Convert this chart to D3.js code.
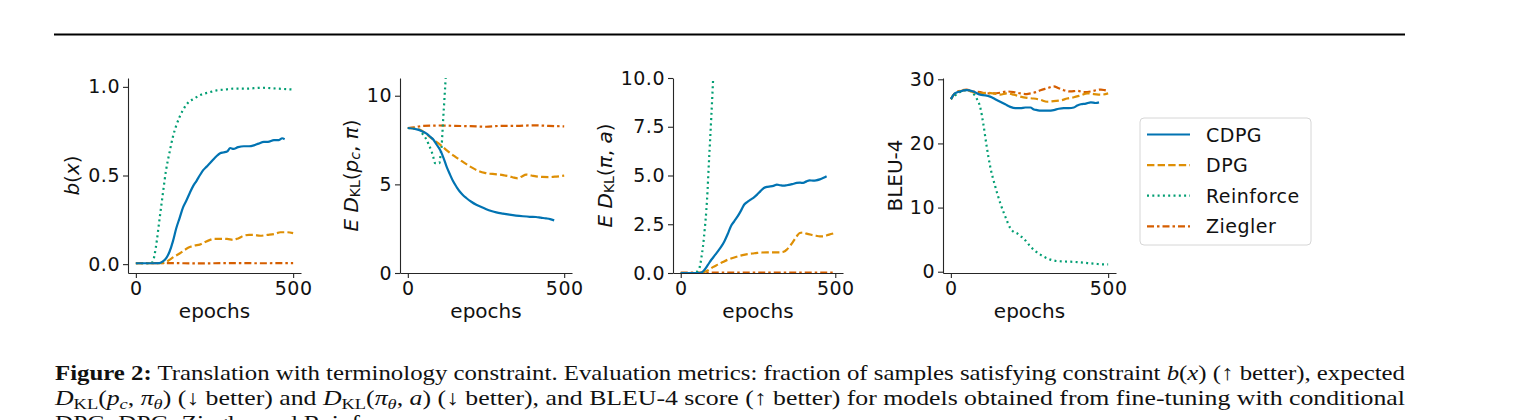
<!DOCTYPE html>
<html lang="en">
<head>
	<meta charset="UTF-8"/>
	<title>Figure 2 - terminology constraint</title>
	<script src="https://d3js.org/d3.v7.min.js"></script>
	<style>
		body { margin: 0; background: #fff; }
		svg text { fill: #111; }
	</style>
</head>
<body>
<script>

var w = 1540;
var h = 420;

var methods = ["CDPG", "DPG", "Reinforce", "Ziegler"];
var colors = ["#0173b2", "#de8f05", "#029e73", "#d55e00"];
var dashes = ["none", "7.4,3.2", "2,3.3", "7,3,2.5,3"];

var xTicks = [0, 500];
var bxTicks = [0, 0.5, 1.0];
var klpTicks = [0, 5, 10];
var klaTicks = [0, 2.5, 5, 7.5, 10];
var bleuTicks = [0, 10, 20, 30];

// [epoch, value]
var bx_cdpg = [[0,0.005],[40,0.005],[75,0.006],[86,0.015],[97,0.035],[107,0.07],[118,0.13],[128,0.2],[139,0.26],[150,0.32],[161,0.36],[171,0.40],[182,0.44],[193,0.47],[203,0.50],[214,0.53],[225,0.55],[236,0.57],[246,0.59],[257,0.61],[268,0.625],[278,0.63],[290,0.635],[300,0.655],[310,0.65],[325,0.66],[343,0.665],[360,0.665],[375,0.67],[390,0.68],[407,0.69],[420,0.69],[439,0.70],[455,0.70],[465,0.71],[473,0.705]];
var bx_dpg = [[0,0.005],[80,0.005],[95,0.01],[107,0.024],[120,0.04],[139,0.06],[155,0.08],[171,0.096],[187,0.105],[203,0.11],[220,0.125],[236,0.137],[250,0.143],[268,0.143],[290,0.142],[310,0.137],[325,0.145],[343,0.16],[360,0.165],[375,0.165],[395,0.16],[418,0.165],[440,0.17],[460,0.18],[480,0.18],[500,0.175]];
var bx_reinforce = [[0,0.005],[48,0.005],[55,0.02],[64,0.1],[75,0.25],[86,0.4],[96,0.53],[107,0.63],[118,0.72],[128,0.78],[139,0.83],[150,0.87],[161,0.9],[171,0.92],[182,0.93],[200,0.95],[214,0.96],[235,0.97],[257,0.98],[285,0.985],[310,0.99],[350,0.99],[400,0.995],[450,0.99],[500,0.985]];
var bx_ziegler = [[0,0.005],[100,0.006],[200,0.004],[300,0.006],[400,0.005],[500,0.006]];

var klp_cdpg = [[0,8.18],[29,8.1],[45,8.0],[60,7.86],[71,7.7],[82,7.52],[92,7.25],[103,6.95],[114,6.5],[124,6.0],[135,5.55],[145,5.17],[156,4.85],[166,4.6],[176,4.4],[187,4.23],[203,4.02],[219,3.85],[235,3.72],[251,3.6],[267,3.5],[283,3.42],[304,3.35],[325,3.29],[346,3.24],[368,3.2],[390,3.17],[410,3.16],[425,3.12],[442,3.08],[455,3.04],[468,2.97]];
var klp_dpg = [[0,8.18],[20,8.15],[39,8.08],[55,7.9],[71,7.67],[87,7.45],[103,7.24],[119,7.0],[135,6.77],[150,6.58],[166,6.39],[182,6.2],[198,6.02],[214,5.86],[230,5.73],[246,5.65],[262,5.6],[278,5.58],[293,5.55],[310,5.5],[325,5.45],[340,5.38],[352,5.34],[365,5.45],[378,5.55],[395,5.5],[410,5.45],[430,5.42],[452,5.41],[475,5.44],[500,5.49]];
var klp_reinforce = [[0,8.18],[20,8.15],[34,8.1],[47,7.85],[60,7.52],[68,7.2],[76,6.86],[82,6.5],[87,6.2],[95,6.2],[101,6.2],[105,6.7],[108,7.14],[111,8.0],[113,8.65],[117,9.8],[121,11.0],[125,12.5],[130,14]];
var klp_ziegler = [[0,8.18],[20,8.22],[50,8.3],[100,8.32],[150,8.3],[200,8.28],[250,8.25],[300,8.3],[350,8.3],[400,8.33],[450,8.3],[500,8.27]];

var kla_cdpg = [[0,0],[60,0],[67,0.02],[77,0.17],[88,0.42],[99,0.68],[110,0.9],[120,1.11],[131,1.35],[141,1.62],[152,2.0],[162,2.39],[173,2.65],[184,2.9],[195,3.2],[205,3.5],[216,3.65],[226,3.76],[237,3.88],[247,4.02],[258,4.2],[269,4.36],[280,4.42],[290,4.44],[300,4.47],[311,4.53],[322,4.5],[332,4.48],[343,4.5],[354,4.53],[365,4.58],[375,4.62],[386,4.63],[396,4.62],[407,4.7],[417,4.75],[428,4.74],[438,4.75],[450,4.8],[462,4.88],[472,4.96]];
var kla_dpg = [[0,0],[65,0],[75,0.04],[88,0.14],[104,0.3],[120,0.43],[136,0.56],[152,0.68],[168,0.77],[184,0.85],[200,0.92],[216,0.97],[232,1.0],[247,1.03],[263,1.05],[279,1.06],[300,1.06],[322,1.06],[335,1.1],[343,1.2],[354,1.4],[364,1.62],[375,1.88],[385,2.05],[396,2.08],[407,2.02],[422,1.96],[438,1.91],[450,1.88],[460,1.88],[480,1.97],[500,2.05]];
var kla_reinforce = [[0,0],[45,0],[51,0.05],[57,0.15],[62,0.34],[67,0.8],[72,1.37],[78,2.3],[83,3.25],[87,4.3],[90,5.3],[95,6.8],[99,8.03],[105,10.0],[110,11.6],[115,13]];
var kla_ziegler = [[0,0.02],[100,0.02],[200,0.02],[300,0.02],[400,0.02],[500,0.02]];

var bleu_cdpg = [[0,26.9],[13,27.8],[29,28.1],[50,28.3],[71,28.1],[93,27.6],[110,27.5],[125,27.3],[141,26.9],[157,26.5],[173,26.1],[189,25.7],[205,25.5],[221,25.5],[237,25.6],[253,25.6],[264,25.3],[274,25.2],[285,25.1],[295,25.1],[311,25.1],[327,25.2],[343,25.4],[359,25.5],[375,25.5],[391,25.6],[402,25.9],[413,26.1],[429,26.2],[445,26.4],[460,26.3],[471,26.4]];
var bleu_dpg = [[0,26.9],[18,28.0],[50,28.3],[70,28.0],[93,27.8],[114,27.9],[135,27.8],[157,27.6],[178,27.8],[200,27.6],[221,27.3],[242,27.1],[263,27.0],[285,26.8],[306,26.5],[327,26.6],[349,26.7],[370,27.0],[391,27.2],[413,27.5],[434,27.8],[455,27.7],[478,27.6],[500,27.8]];
var bleu_reinforce = [[0,26.9],[29,28.0],[50,28.3],[71,27.8],[82,27.0],[93,25.7],[103,23.1],[114,19.5],[125,16.4],[141,13.3],[157,10.7],[173,8.6],[189,6.8],[200,6.2],[210,6.0],[220,5.6],[231,5.2],[242,4.6],[253,3.9],[264,3.4],[274,3.0],[290,2.5],[306,2.1],[322,1.8],[338,1.66],[360,1.6],[381,1.56],[402,1.5],[423,1.4],[445,1.3],[466,1.2],[485,1.15],[500,1.14]];
var bleu_ziegler = [[0,26.9],[18,28.0],[50,28.4],[70,28.1],[93,28.0],[114,27.8],[135,27.8],[157,27.9],[178,28.1],[200,28.0],[221,27.8],[242,27.7],[253,27.8],[270,28.0],[285,28.3],[306,28.6],[327,28.9],[343,28.6],[359,28.3],[380,28.1],[402,28.2],[423,28.0],[445,28.1],[462,28.3],[477,28.4],[490,28.3],[500,28.2]];

// layout of the four panels
var panels = [
	{ x0: 128, x1: 301, yDom: [-0.05, 1.05], ticks: bxTicks, fmt: ".1f", labelX: 72,
	  series: [bx_cdpg, bx_dpg, bx_reinforce, bx_ziegler], label: "bx" },
	{ x0: 400, x1: 572, yDom: [0, 11], ticks: klpTicks, fmt: "d", labelX: 351,
	  series: [klp_cdpg, klp_dpg, klp_reinforce, klp_ziegler], label: "klp" },
	{ x0: 673, x1: 843, yDom: [0, 10], ticks: klaTicks, fmt: ".1f", labelX: 605,
	  series: [kla_cdpg, kla_dpg, kla_reinforce, kla_ziegler], label: "kla" },
	{ x0: 943, x1: 1116, yDom: [-0.2, 30.2], ticks: bleuTicks, fmt: "d", labelX: 895,
	  series: [bleu_cdpg, bleu_dpg, bleu_reinforce, bleu_ziegler], label: "bleu" }
];
var axTop = 78, axBottom = 273;

var svg = d3.select("body")
	.append("svg")
	.attr("width", w)
	.attr("height", h)
	.style("display", "block");

// rule above the figure
svg.append("line")
	.attr("x1", 54).attr("x2", 1405)
	.attr("y1", 34.5).attr("y2", 34.5)
	.attr("stroke", "#000")
	.attr("stroke-width", 2);

panels.forEach(function(p, pi) {
	var xScale = d3.scaleLinear().domain([-25, 525]).range([p.x0, p.x1]);
	var yScale = d3.scaleLinear().domain(p.yDom).range([axBottom, axTop]);

	svg.append("clipPath")
		.attr("id", "clip" + pi)
		.append("rect")
		.attr("x", p.x0).attr("y", axTop)
		.attr("width", p.x1 - p.x0).attr("height", axBottom - axTop);

	var line = d3.line()
		.x(function(d) { return xScale(d[0]); })
		.y(function(d) { return yScale(d[1]); })
		.curve(d3.curveMonotoneX);

	var g = svg.append("g").attr("clip-path", "url(#clip" + pi + ")");
	// Ziegler / Reinforce underneath, CDPG on top
	[3, 2, 1, 0].forEach(function(k) {
		g.append("path")
			.datum(p.series[k])
			.attr("d", line)
			.attr("fill", "none")
			.attr("stroke", colors[k])
			.attr("stroke-width", 2.2)
			.attr("stroke-dasharray", dashes[k]);
	});

	var xAxis = d3.axisBottom(xScale).tickValues(xTicks).tickSize(5).tickPadding(4).tickSizeOuter(0);
	var yAxis = d3.axisLeft(yScale).tickValues(p.ticks).tickFormat(d3.format(p.fmt))
		.tickSize(5).tickPadding(3).tickSizeOuter(0);

	var gx = svg.append("g")
		.attr("transform", "translate(0," + axBottom + ")")
		.call(xAxis);
	var gy = svg.append("g")
		.attr("transform", "translate(" + p.x0 + ",0)")
		.call(yAxis);

	[gx, gy].forEach(function(a) {
		a.select(".domain").attr("stroke", "#262626").attr("stroke-width", 1.1);
		a.selectAll(".tick line").attr("stroke", "#262626").attr("stroke-width", 1.1);
		a.selectAll(".tick text")
			.style("font-family", "'DejaVu Sans'")
			.style("font-size", "19px")
			.style("letter-spacing", "0.5px")
			.attr("fill", "#111");
	});

	svg.append("text")
		.attr("x", (p.x0 + p.x1) / 2)
		.attr("y", 318)
		.attr("text-anchor", "middle")
		.style("font-family", "'DejaVu Sans'")
		.style("font-size", "20px")
		.text("epochs");

	var yl = svg.append("text")
		.attr("transform", "translate(" + p.labelX + "," + ((axTop + axBottom) / 2) + ") rotate(-90)")
		.attr("text-anchor", "middle")
		.attr("dominant-baseline", "central")
		.style("font-family", "'DejaVu Sans'")
		.style("font-size", "20px");

	function part(t, italic, dy, size) {
		var s = yl.append("tspan").text(t);
		if (italic) s.style("font-style", "italic");
		if (dy) s.attr("dy", dy);
		if (size) s.style("font-size", size);
		return s;
	}
	if (p.label == "bx") {
		part("b", true); part("("); part("x", true); part(")");
	} else if (p.label == "klp") {
		part("E D", true); part("KL", false, 4, "14px"); part("(", false, -4);
		part("p", true); part("c", true, 4, "14px"); part(", ", false, -4);
		part("π", true); part(")");
	} else if (p.label == "kla") {
		part("E D", true); part("KL", false, 4, "14px"); part("(", false, -4);
		part("π", true); part(", "); part("a", true); part(")");
	} else {
		part("BLEU-4");
	}
});

// legend
var lg = svg.append("g").attr("transform", "translate(1140,118)");
lg.append("rect")
	.attr("width", 171).attr("height", 127)
	.attr("rx", 4)
	.attr("fill", "#fff")
	.attr("stroke", "#d6d6d6")
	.attr("stroke-width", 1);
methods.forEach(function(m, k) {
	var yy = 16.5 + k * 30.6;
	lg.append("line")
		.attr("x1", 7).attr("x2", 50)
		.attr("y1", yy).attr("y2", yy)
		.attr("stroke", colors[k])
		.attr("stroke-width", 2.2)
		.attr("stroke-dasharray", dashes[k]);
	lg.append("text")
		.attr("x", 66).attr("y", yy)
		.attr("dominant-baseline", "central")
		.style("font-family", "'DejaVu Sans'")
		.style("font-size", "19px")
		.style("letter-spacing", "0.5px")
		.text(m);
});

// caption
var capLines = [
	[["Figure 2:", "b"], [" Translation with terminology constraint. Evaluation metrics: fraction of samples satisfying constraint "],
	 ["b", "i"], ["("], ["x", "i"], [") (\u2191 better), expected"]],
	[["D", "i"], ["KL", "sub"], ["("], ["p", "i"], ["c", "subi"], [", "], ["\u03c0", "i"], ["\u03b8", "subi"], [") (\u2193 better) and "],
	 ["D", "i"], ["KL", "sub"], ["("], ["\u03c0", "i"], ["\u03b8", "subi"], [", "], ["a", "i"], [") (\u2193 better), and BLEU-4 score (\u2191 better) for models obtained from fine-tuning with conditional"]],
	[["DPG, DPG, Ziegler and Reinforce."]]
];
var capBase = [380, 405, 430];
var ratios = [];
capLines.forEach(function(parts, li) {
	var t = svg.append("text")
		.attr("x", 55).attr("y", capBase[li])
		.style("font-family", "'Liberation Serif'")
		.style("font-size", "21px");
	var shifted = false;
	parts.forEach(function(pt) {
		var s = t.append("tspan").text(pt[0]);
		var kind = pt[1];
		if (kind == "b") s.style("font-weight", "bold");
		if (kind == "i" || kind == "subi") s.style("font-style", "italic");
		if (kind == "sub" || kind == "subi") {
			s.style("font-size", "15px");
			if (!shifted) { s.attr("dy", 4); shifted = true; }
		} else if (shifted) {
			s.attr("dy", -4); shifted = false;
		}
	});
	var natural = t.node().getComputedTextLength();
	if (li < 2) {
		ratios.push(1350 / natural);
		t.attr("textLength", 1350).attr("lengthAdjust", "spacingAndGlyphs");
	} else {
		var r = d3.mean(ratios);
		t.attr("textLength", natural * r).attr("lengthAdjust", "spacingAndGlyphs");
	}
});

</script>
</body>
</html>
